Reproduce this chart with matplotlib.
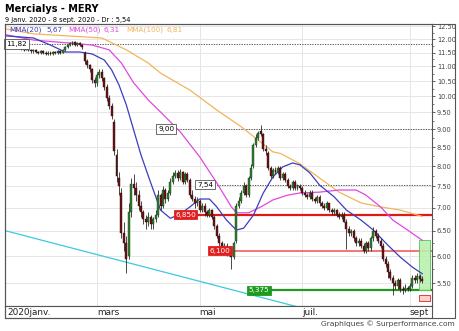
import matplotlib
matplotlib.use("Agg")
import matplotlib.pyplot as plt
from matplotlib.patches import Rectangle
from matplotlib.ticker import FixedLocator, NullFormatter, FuncFormatter
import numpy as np
import pandas as pd

# daily OHLC, 9 janv. 2020 -> 8 sept. 2020 (Euronext trading days)
opens = [11.92, 11.88, 11.84, 11.78, 11.82, 11.74, 11.70, 11.64, 11.60, 11.66, 11.58, 11.54, 11.60, 11.52, 11.48, 11.56, 11.50,
         11.46, 11.50, 11.44, 11.52, 11.48, 11.54, 11.50, 11.60, 11.70, 11.78, 11.84, 11.88, 11.80, 11.86, 11.78, 11.50, 11.20, 11.05, 10.90, 10.55,
         10.42, 10.70, 10.82, 10.60, 10.30, 9.95, 9.70, 9.20, 8.30, 7.70, 7.35, 6.45, 6.25, 6.00, 6.90, 7.55, 7.45, 7.30, 7.05, 6.90, 6.75, 6.70,
         6.80, 6.65, 6.75, 6.85, 7.30, 7.05, 7.40, 7.20, 7.35, 7.60, 7.75, 7.82, 7.70, 7.85, 7.60, 7.80, 7.65, 7.30, 7.20, 7.10,
         7.15, 6.95, 7.05, 6.90, 6.85, 6.95, 6.80, 6.60, 6.40, 6.25, 6.10, 6.20, 6.05, 6.15, 5.98, 6.30, 7.05, 7.15, 7.35, 7.50,
         7.30, 7.70, 8.00, 8.55, 8.75, 8.95, 8.85, 8.45, 8.35, 7.95, 7.75, 7.90, 7.85, 7.95, 7.70, 7.80, 7.65, 7.50, 7.45, 7.60, 7.45, 7.50,
         7.45, 7.35, 7.30, 7.25, 7.35, 7.20, 7.15, 7.25, 7.10, 7.05, 7.00, 7.10, 6.95, 6.90, 6.95, 6.85, 6.80, 6.85, 6.70, 6.55, 6.45, 6.50, 6.35,
         6.25, 6.30, 6.20, 6.10, 6.25, 6.15, 6.35, 6.50, 6.40, 6.30, 6.20, 5.95, 5.85, 5.70, 5.60, 5.50, 5.45, 5.55, 5.40, 5.38, 5.42,
         5.40, 5.45, 5.60, 5.55, 5.62, 5.58]
highs = [11.98, 11.92, 11.88, 11.86, 11.85, 11.78, 11.74, 11.68, 11.70, 11.70, 11.62, 11.64, 11.62, 11.56, 11.60, 11.60, 11.54,
         11.54, 11.54, 11.56, 11.56, 11.58, 11.58, 11.64, 11.74, 11.82, 11.90, 11.95, 11.92, 11.90, 11.90, 11.82, 11.55, 11.28, 11.10, 10.95, 10.65,
         10.80, 10.92, 10.90, 10.65, 10.40, 10.05, 9.80, 9.30, 8.45, 7.85, 7.45, 6.70, 6.40, 7.10, 7.70, 7.80, 7.60, 7.40, 7.15, 6.95, 6.85, 6.90,
         6.85, 6.80, 6.95, 7.40, 7.35, 7.50, 7.45, 7.40, 7.70, 7.85, 7.90, 7.90, 7.92, 7.88, 7.85, 7.85, 7.70, 7.40, 7.28, 7.25,
         7.20, 7.10, 7.10, 6.95, 7.00, 6.98, 6.85, 6.65, 6.45, 6.30, 6.25, 6.25, 6.20, 6.20, 6.30, 7.10, 7.25, 7.40, 7.60, 7.55,
         7.75, 8.05, 8.60, 8.85, 8.95, 9.12, 8.90, 8.55, 8.40, 8.00, 7.95, 7.98, 8.00, 8.00, 7.85, 7.85, 7.70, 7.55, 7.65, 7.65, 7.55, 7.55,
         7.50, 7.40, 7.35, 7.40, 7.40, 7.25, 7.30, 7.30, 7.15, 7.10, 7.15, 7.12, 7.00, 7.00, 6.98, 6.90, 6.90, 6.90, 6.75, 6.60, 6.55, 6.55, 6.40,
         6.35, 6.35, 6.25, 6.30, 6.30, 6.40, 6.58, 6.55, 6.45, 6.35, 6.25, 6.00, 5.90, 5.75, 5.65, 5.55, 5.60, 5.60, 5.45, 5.48, 5.46,
         5.50, 5.65, 5.65, 5.68, 5.66, 5.62]
lows = [11.82, 11.80, 11.76, 11.74, 11.70, 11.66, 11.60, 11.56, 11.58, 11.54, 11.50, 11.50, 11.48, 11.44, 11.45, 11.46, 11.42,
        11.42, 11.40, 11.42, 11.44, 11.45, 11.46, 11.48, 11.56, 11.66, 11.74, 11.80, 11.76, 11.76, 11.74, 11.65, 11.10, 10.95, 10.80, 10.45, 10.30,
        10.35, 10.60, 10.50, 10.20, 9.85, 9.60, 9.30, 8.30, 7.60, 7.30, 6.35, 6.10, 5.68, 5.95, 6.80, 7.30, 7.15, 6.95, 6.80, 6.65, 6.55, 6.60,
        6.55, 6.55, 6.70, 6.80, 6.95, 7.00, 7.10, 7.15, 7.30, 7.55, 7.70, 7.62, 7.65, 7.55, 7.55, 7.60, 7.25, 7.15, 7.00, 7.05,
        6.90, 6.90, 6.82, 6.80, 6.80, 6.75, 6.55, 6.35, 6.20, 6.05, 6.05, 6.00, 6.00, 5.76, 5.95, 6.25, 7.00, 7.10, 7.30, 7.25,
        7.25, 7.65, 7.95, 8.50, 8.70, 8.80, 8.40, 8.30, 7.90, 7.70, 7.70, 7.80, 7.80, 7.65, 7.65, 7.60, 7.45, 7.40, 7.40, 7.40, 7.40, 7.40,
        7.30, 7.25, 7.20, 7.20, 7.15, 7.10, 7.10, 7.05, 7.00, 6.95, 6.95, 6.90, 6.85, 6.85, 6.80, 6.75, 6.75, 6.70, 6.13, 6.40, 6.40, 6.30, 6.20,
        6.20, 6.15, 6.05, 6.05, 6.10, 6.10, 6.30, 6.35, 6.25, 6.15, 5.90, 5.80, 5.60, 5.55, 5.30, 5.40, 5.40, 5.35, 5.32, 5.34, 5.36,
        5.36, 5.42, 5.50, 5.50, 5.52, 5.50]
closes = [11.88, 11.84, 11.80, 11.82, 11.74, 11.70, 11.64, 11.60, 11.66, 11.58, 11.54, 11.60, 11.52, 11.48, 11.56, 11.50, 11.46,
          11.50, 11.44, 11.52, 11.48, 11.54, 11.50, 11.60, 11.70, 11.78, 11.84, 11.88, 11.80, 11.86, 11.78, 11.70, 11.20, 11.05, 10.90, 10.55, 10.42,
          10.70, 10.82, 10.60, 10.30, 9.95, 9.70, 9.40, 8.40, 7.75, 7.50, 6.45, 6.25, 5.95, 6.90, 7.55, 7.45, 7.30, 7.05, 6.90, 6.75, 6.70, 6.80,
          6.65, 6.75, 6.85, 7.30, 7.05, 7.40, 7.20, 7.35, 7.60, 7.75, 7.82, 7.70, 7.85, 7.60, 7.80, 7.65, 7.30, 7.20, 7.10, 7.15,
          6.95, 7.05, 6.90, 6.85, 6.95, 6.80, 6.60, 6.40, 6.25, 6.10, 6.20, 6.05, 6.15, 5.98, 6.25, 7.05, 7.15, 7.35, 7.50, 7.30,
          7.70, 7.95, 8.55, 8.75, 8.90, 8.85, 8.45, 8.40, 7.95, 7.75, 7.90, 7.85, 7.95, 7.70, 7.80, 7.65, 7.50, 7.45, 7.60, 7.45, 7.50, 7.45,
          7.35, 7.30, 7.25, 7.35, 7.20, 7.15, 7.25, 7.10, 7.05, 7.00, 7.10, 6.95, 6.90, 6.95, 6.85, 6.80, 6.85, 6.70, 6.55, 6.45, 6.50, 6.35, 6.25,
          6.30, 6.20, 6.10, 6.25, 6.15, 6.35, 6.50, 6.40, 6.30, 6.20, 5.95, 5.85, 5.70, 5.60, 5.50, 5.45, 5.55, 5.40, 5.38, 5.42, 5.40,
          5.45, 5.60, 5.55, 5.62, 5.58, 5.54]

# moving averages (trading day index, price)
mma20_day = [0, 11, 18, 24, 30, 35, 40, 43, 46, 49, 52, 55, 59, 63, 67, 71, 75, 79, 83, 86, 90, 94, 97, 101, 105, 109, 113, 117, 120, 124, 128, 134, 139, 145, 150, 156, 161, 166, 170]
mma20_val = [12.13, 12.05, 11.78, 11.52, 11.52, 11.45, 11.23, 10.88, 10.37, 9.73, 8.98, 8.29, 7.58, 6.95, 6.77, 6.86, 7.02, 7.20, 7.20, 7.02, 6.73, 6.52, 6.56, 6.84, 7.34, 7.73, 7.98, 8.08, 8.03, 7.83, 7.53, 7.25, 6.95, 6.73, 6.52, 6.21, 5.98, 5.79, 5.67]
mma50_day = [0, 11, 25, 35, 42, 47, 52, 58, 63, 71, 79, 86, 92, 94, 99, 104, 109, 115, 120, 128, 136, 143, 147, 153, 158, 164, 170]
mma50_val = [12.17, 11.97, 11.86, 11.78, 11.60, 11.12, 10.44, 9.88, 9.51, 8.93, 8.24, 7.58, 7.02, 6.89, 6.89, 7.02, 7.18, 7.29, 7.34, 7.36, 7.41, 7.41, 7.29, 7.02, 6.73, 6.52, 6.31]
mma100_day = [0, 11, 39, 49, 58, 63, 75, 86, 96, 103, 109, 112, 120, 128, 136, 145, 153, 161, 170]
mma100_val = [12.40, 12.21, 12.05, 11.60, 11.12, 10.77, 10.20, 9.57, 9.07, 8.69, 8.37, 8.33, 8.06, 7.70, 7.36, 7.11, 7.02, 6.95, 6.81]

# trend line (day, price) and levels
trend_day = [0, 174]
trend_val = [6.50, 4.56]
high_level = 11.82
levels_dotted = [(9.00, 62, 69), (7.54, 78, 85)]
resist = 6.85
resist2 = 6.10
support = 5.375
zone_top = 6.31
target_low, target_high = 5.20, 5.30

holidays = pd.to_datetime(["2020-04-10", "2020-04-13", "2020-05-01"])
days = pd.bdate_range("2020-01-09", "2020-09-08")
days = days[~days.isin(holidays)]
month_names = {1: "2020janv.", 3: "mars", 5: "mai", 7: "juil.", 9: "sept"}

o = np.array(opens); h = np.array(highs); l = np.array(lows); c = np.array(closes)
x = np.arange(len(c))

def fr(v):
    return "{:.2f}".format(v).replace(".", ",")

W, H = 460, 331
fig = plt.figure(figsize=(W / 100, H / 100), dpi=100)
ax = fig.add_axes([5 / W, 1 - 306 / H, 427 / W, 282 / H])
ax.set_yscale("log")
ax.set_xlim(-0.6, 174.0)
ax.set_ylim(5.114, 12.60)

# grid
yt = np.arange(5.5, 12.51, 0.5)
for v in yt:
    ax.axhline(v, color="#e6e6e6", lw=0.7, zorder=0)
month_idx = [int(np.argmax(days.month == m)) for m in month_names]
for i in month_idx[1:]:
    ax.axvline(i, color="#e6e6e6", lw=0.7, zorder=0)

# trend line
ax.plot(trend_day, trend_val, color="#3cc8e0", lw=0.9, zorder=1)

# levels
ax.hlines(high_level, 0, 174, color="#555555", lw=0.7, linestyles=(0, (1.3, 1.3)), zorder=2)
ax.text(-0.2, high_level, fr(high_level), fontsize=5.2, va="center", ha="left", zorder=6,
        bbox=dict(boxstyle="square,pad=0.25", fc="white", ec="#555555", lw=0.6))
for lev, tx, lx in levels_dotted:
    ax.hlines(lev, lx, 174, color="#555555", lw=0.7, linestyles=(0, (1.3, 1.3)), zorder=2)
    ax.text(tx, lev, fr(lev), fontsize=5.2, va="center", ha="left", zorder=6,
            bbox=dict(boxstyle="square,pad=0.25", fc="white", ec="#555555", lw=0.6))

ax.hlines(resist, 70, 174, color="#e01818", lw=1.6, zorder=2)
ax.text(69, resist, "6,850", fontsize=5.2, color="white", va="center", ha="left", zorder=6,
        bbox=dict(boxstyle="square,pad=0.2", fc="#e02020", ec="#e02020", lw=0.6))
ax.hlines(resist2, 84, 174, color="#f05050", lw=1.1, zorder=2)
ax.text(83, resist2, "6,100", fontsize=5.2, color="white", va="center", ha="left", zorder=6,
        bbox=dict(boxstyle="square,pad=0.2", fc="#e02020", ec="#e02020", lw=0.6))
ax.hlines(support, 100, 174, color="#1e9a1e", lw=1.6, zorder=2)
ax.text(99, support, "5,375", fontsize=5.2, color="white", va="center", ha="left", zorder=6,
        bbox=dict(boxstyle="square,pad=0.2", fc="#1e9a1e", ec="#1e9a1e", lw=0.6))

ax.add_patch(Rectangle((168.7, support), 4.5, zone_top - support, fc="#b9f0b0", ec="#5ac85a", lw=0.7, zorder=2, alpha=0.9))
ax.add_patch(Rectangle((168.7, target_low), 4.5, target_high - target_low, fc="#ffd0d0", ec="#e04040", lw=0.7, zorder=2))

# moving averages
ax.plot(mma100_day, mma100_val, color="#f2b45c", lw=0.9, zorder=3)
ax.plot(mma50_day, mma50_val, color="#e048e0", lw=0.9, zorder=3)
ax.plot(mma20_day, mma20_val, color="#3c3cc0", lw=0.9, zorder=3)

# candles
up = c >= o
ax.vlines(x, l, h, color="#2a2a2a", lw=0.6, zorder=4)
ax.bar(x[up], (c - o)[up], bottom=o[up], width=0.8, color="#2e7d2e", edgecolor="#1b3b1b", lw=0.3, zorder=5)
ax.bar(x[~up], (o - c)[~up], bottom=c[~up], width=0.8, color="#6e1414", edgecolor="#2a0a0a", lw=0.3, zorder=5)

# axes cosmetics
ax.yaxis.tick_right()
ax.yaxis.set_major_locator(FixedLocator(yt))
ax.yaxis.set_major_formatter(FuncFormatter(lambda v, p: "{:.2f}".format(v)))
ax.yaxis.set_minor_locator(FixedLocator(yt + 0.25))
ax.yaxis.set_minor_formatter(NullFormatter())
ax.tick_params(axis="y", which="major", direction="out", length=2.5, width=0.6, colors="#444444", labelsize=4.8, pad=1)
ax.tick_params(axis="y", which="minor", direction="out", length=1.5, width=0.5, colors="#444444")
ax.set_xticks([])
for s in ax.spines.values():
    s.set_color("#555555")
    s.set_linewidth(0.8)

# legend
leg = [("MMA(20)", 9, "#3c3cc0"), (fr(mma20_val[-1]), 46, "#3c3cc0"),
       ("MMA(50)", 68, "#e048e0"), (fr(mma50_val[-1]), 104, "#e048e0"),
       ("MMA(100)", 126, "#f2b45c"), (fr(mma100_val[-1]), 167, "#f2b45c")]
for txt, px, col in leg:
    fig.text(px / W, 1 - 30 / H, txt, fontsize=5.2, color=col, va="center", ha="left")

# date strip
ax2 = fig.add_axes([5 / W, 1 - 318 / H, 427 / W, 12 / H])
ax2.set_xlim(-0.6, 174.0)
ax2.set_ylim(0, 1)
ax2.set_xticks([]); ax2.set_yticks([])
for s in ax2.spines.values():
    s.set_color("#555555")
    s.set_linewidth(0.8)
for (m, name), i in zip(month_names.items(), month_idx):
    ax2.text(max(i, 0.3), 0.45, name, fontsize=6.4, color="#222222", va="center", ha="left")

# outer frame
fig.add_artist(Rectangle((5 / W, 1 - 318 / H), 450 / W, 294 / H, transform=fig.transFigure,
                         fill=False, ec="#555555", lw=0.8))

fig.text(5 / W, 1 - 9 / H, "Mercialys - MERY", fontsize=7.0, fontweight="bold", va="center", ha="left")
fig.text(5 / W, 1 - 20 / H, "9 janv. 2020 - 8 sept. 2020 - Dr : " + fr(closes[-1]), fontsize=4.8, va="center", ha="left")
fig.text(455 / W, 1 - 324 / H, "Graphiques \u00a9 Surperformance.com", fontsize=5.4, color="#444444", va="center", ha="right")

fig.savefig("out.png", dpi=100)
